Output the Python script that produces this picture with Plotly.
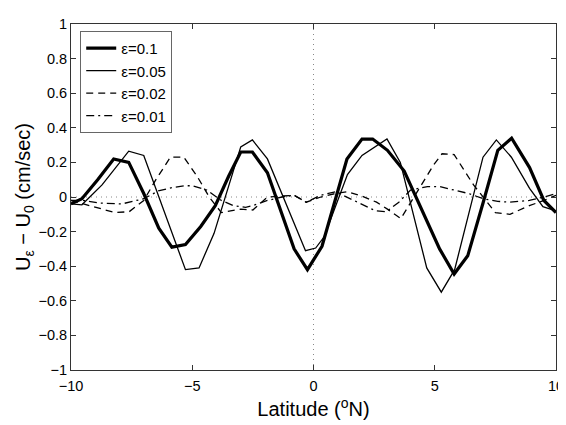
"""Ecart de vitesse U_eps - U_0 selon la latitude, pour plusieurs epsilon."""

import plotly.graph_objects as go

# Valeurs (latitude en degres N, ecart en cm/s)
lat_01 = [-10, -9.55, -8.9, -8.24, -7.62, -7.0, -6.38, -5.84, -5.28, -4.65, -4.05,
          -3.5, -3.0, -2.52, -1.9, -0.8, -0.25, 0.35, 1.38, 2.0, 2.44, 3.05, 3.74,
          4.3, 5.2, 5.8, 6.36, 7.0, 7.6, 8.17, 8.91, 9.5, 10]
u_01 = [-0.04, -0.01, 0.1, 0.22, 0.20, 0.02, -0.18, -0.29, -0.275, -0.17, -0.05,
        0.12, 0.26, 0.26, 0.14, -0.30, -0.42, -0.285, 0.22, 0.335, 0.335, 0.27, 0.15,
        -0.02, -0.30, -0.445, -0.34, -0.03, 0.27, 0.34, 0.17, -0.02, -0.09]

lat_005 = [-10, -9.55, -8.72, -7.62, -7.0, -5.28, -4.72, -4.1, -3.0, -2.52, -1.9,
           -0.33, 0.09, 0.44, 1.4, 2.0, 3.03, 3.58, 4.67, 5.27, 5.82, 6.99, 7.54,
           8.16, 8.91, 9.46, 10]
u_005 = [-0.04, -0.045, 0.07, 0.265, 0.24, -0.42, -0.41, -0.21, 0.29, 0.33, 0.22,
         -0.31, -0.295, -0.23, 0.13, 0.24, 0.336, 0.20, -0.41, -0.55, -0.42, 0.23, 0.33,
         0.23, 0.05, -0.056, -0.08]

lat_002 = [-10, -9.5, -8.8, -8.2, -7.6, -7.0, -6.5, -5.9, -5.35, -4.8, -4.3, -3.8,
           -3.0, -2.5, -1.9, -1.3, -0.8, -0.3, 0.3, 0.9, 1.4, 2.0, 2.6, 3.05, 3.6,
           4.45, 4.95, 5.3, 5.8, 6.6, 7.5, 8.1, 8.9, 9.5, 10]
u_002 = [-0.02, -0.04, -0.07, -0.09, -0.085, -0.02, 0.1, 0.23, 0.23, 0.12, 0.0, -0.09,
         -0.07, -0.075, 0.0, 0.005, 0.01, -0.03, 0.0, 0.02, 0.03, 0.005, -0.03, -0.07, -0.125,
         0.07, 0.185, 0.25, 0.245, 0.07, -0.09, -0.1, -0.05, -0.02, 0.01]

lat_001 = [-10, -9.5, -8.8, -8.3, -7.9, -7.0, -6.4, -5.8, -5.3, -5.0, -4.4, -3.8,
           -3.3, -2.8, -2.5, -1.9, -1.3, -0.8, -0.3, 0.3, 0.9, 1.67, 2.56, 3.0, 3.52,
           4.0, 4.7, 5.2, 5.8, 6.4, 7.0, 7.6, 8.1, 8.9, 9.5, 10]
u_001 = [-0.02, -0.02, -0.035, -0.04, -0.04, -0.01, 0.035, 0.055, 0.065, 0.065, 0.04, -0.02,
         -0.05, -0.06, -0.05, -0.02, 0.0, 0.01, -0.03, 0.01, 0.03, -0.02, -0.08, -0.085, -0.03,
         0.04, 0.06, 0.06, 0.04, 0.02, -0.01, -0.025, -0.03, -0.02, 0.0, 0.02]

x_ticks = [-10, -5, 0, 5, 10]
y_ticks = [-1, -0.8, -0.6, -0.4, -0.2, 0, 0.2, 0.4, 0.6, 0.8, 1]

FONT = "Liberation Sans, Arial, Helvetica, sans-serif"

series = [
    ("ε=0.1", lat_01, u_01, dict(width=3.2, dash="solid")),
    ("ε=0.05", lat_005, u_005, dict(width=1.3, dash="solid")),
    ("ε=0.02", lat_002, u_002, dict(width=1.3, dash="7px,5px")),
    ("ε=0.01", lat_001, u_001, dict(width=1.3, dash="8px,4px,2px,4px")),
]

fig = go.Figure()
for nom, x, y, ligne in series:
    fig.add_trace(go.Scatter(x=x, y=y, mode="lines", name=nom,
                             line=dict(color="black", **ligne)))

# lignes pointillees en 0
for x0, x1, y0, y1 in [(0, 0, -1, 1), (-10, 10, 0, 0)]:
    fig.add_shape(type="line", xref="x", yref="y", x0=x0, x1=x1, y0=y0, y1=y1,
                  line=dict(color="#888888", width=1, dash="1px,4px"), layer="below")

axe = dict(showline=True, linecolor="#333333", linewidth=1, mirror="ticks",
           ticks="inside", ticklen=5, tickcolor="#333333", showgrid=False,
           zeroline=False, ticklabeloverflow="allow",
           tickfont=dict(family=FONT, size=14.5, color="black"))

fig.update_layout(
    width=566, height=425,
    margin=dict(l=63, r=18, t=8, b=63),
    paper_bgcolor="white", plot_bgcolor="white",
    font=dict(family=FONT, color="black"),
    xaxis=dict(range=[-10, 10], tickvals=x_ticks, ticklabelstandoff=3,
               title=dict(text="Latitude (<sup>o</sup>N)", font=dict(size=20),
                          standoff=8), **axe),
    yaxis=dict(range=[-1, 1], tickvals=y_ticks,
               ticktext=[f"{v:g}".replace("-", "−") for v in y_ticks],
               title=dict(text="U<sub>ε</sub> − U<sub>0</sub> (cm/sec)",
                          font=dict(size=20), standoff=2), **axe),
    legend=dict(x=0.019, y=0.98, xanchor="left", yanchor="top",
                bgcolor="white", bordercolor="#666666", borderwidth=1,
                font=dict(family=FONT, size=15), tracegroupgap=0),
    showlegend=True,
)

fig.write_html("out.html")
